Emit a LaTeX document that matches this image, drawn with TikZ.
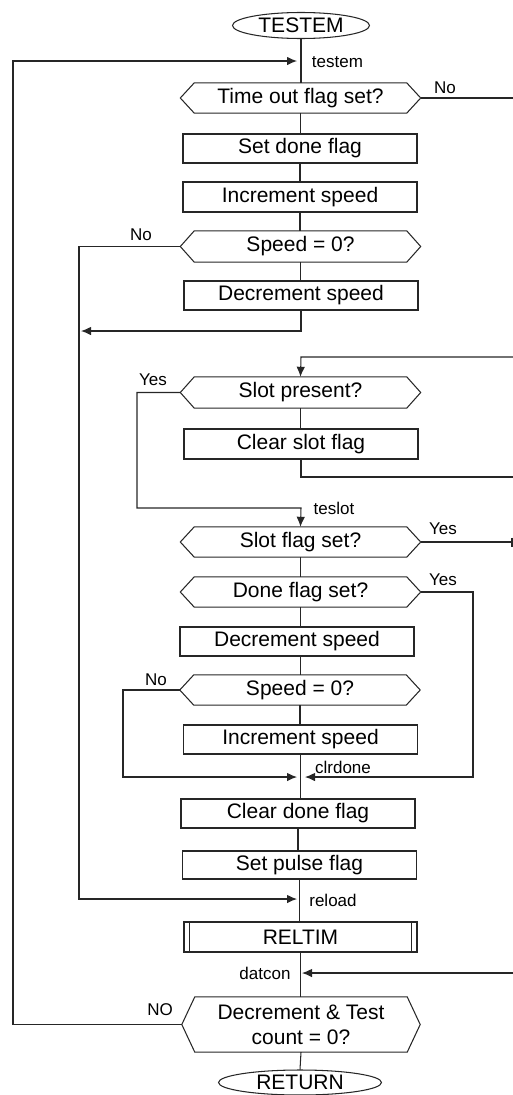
\documentclass[tikz,border=0pt]{standalone}
\usepackage{fontspec}
\setmainfont{Liberation Sans}
\usetikzlibrary{arrows.meta,shapes.geometric}
\newcommand\hexdraw[2]{\draw[shp] (#1.north west) -- (#1.north east) -- ([xshift=#2pt]#1.east) coordinate (#1r) -- (#1.south east) -- (#1.south west) -- ([xshift=-#2pt]#1.west) coordinate (#1l) -- cycle;}
\tikzset{
  shp/.style={draw=black!85, line width=1.05pt},
  ln/.style={draw=black!85, line width=1.05pt},
  arr/.style={-{Latex[length=10pt,width=8.5pt]}},
  big/.style={font={\fontsize{21}{25}\selectfont}},
  lbl/.style={font={\fontsize{17}{20}\selectfont}, inner sep=0pt},
  box/.style={shp, rectangle, minimum width=234pt, minimum height=29pt, inner sep=0pt, big},
  hexin/.style={rectangle, minimum width=212pt, minimum height=30pt, inner sep=0pt, big, align=center},
  term/.style={shp, ellipse, inner sep=0pt, big},
}
\begin{document}
\begin{tikzpicture}[x=1pt,y=-1pt]
\useasboundingbox (0,0) rectangle (513,1095);
% nodes
\node[term, minimum width=137pt, minimum height=26pt] (start) at (301,25.5) {TESTEM};
\node[hexin, minimum height=30pt] (q1) at (300.5,98) {Time out flag set?};
\hexdraw{q1}{14}
\node[box, minimum height=29pt] (b1) at (300,148.5) {Set done flag};
\node[box, minimum height=30pt] (b2) at (300,197) {Increment speed};
\node[hexin, minimum height=31pt] (q2) at (300.5,246.5) {Speed = 0?};
\hexdraw{q2}{14}
\node[box, minimum height=29pt] (b3) at (301,295.5) {Decrement speed};
\node[hexin, minimum height=31pt] (q3) at (300.5,392.5) {Slot present?};
\hexdraw{q3}{14}
\node[box, minimum height=30pt] (b4) at (301,444) {Clear slot flag};
\node[hexin, minimum height=30pt] (q4) at (300.5,542) {Slot flag set?};
\hexdraw{q4}{14}
\node[hexin, minimum height=30pt] (q5) at (300.5,592) {Done flag set?};
\hexdraw{q5}{14}
\node[box, minimum height=29pt] (b5) at (297,641.5) {Decrement speed};
\node[hexin, minimum height=30pt] (q6) at (300,690) {Speed = 0?};
\hexdraw{q6}{14}
\node[box, minimum height=29pt] (b6) at (300.5,739.5) {Increment speed};
\node[box, minimum height=29pt] (b7) at (298,813.5) {Clear done flag};
\node[box, minimum height=28pt] (b8) at (299.5,865) {Set pulse flag};
\node[box, minimum width=233pt, minimum height=30pt] (b9) at (300.5,937) {RELTIM};
\draw[shp] ([xshift=6pt]b9.north west) -- ([xshift=6pt]b9.south west);
\draw[shp] ([xshift=-6pt]b9.north east) -- ([xshift=-6pt]b9.south east);
\node[hexin, minimum height=55pt] (q7) at (301,1024.5) {Decrement \& Test\\count = 0?};
\hexdraw{q7}{13}
\node[term, minimum width=163pt, minimum height=25pt] (end) at (300,1082.5) {RETURN};
% labels
\node[lbl] (lt) at (337.5,62) {testem};
\node[lbl] (l1) at (445,88) {No};
\node[lbl] (l2) at (141,235) {No};
\node[lbl] (l3) at (153,380) {Yes};
\node[lbl] (l4) at (334,508) {teslot};
\node[lbl] (l5) at (443,529) {Yes};
\node[lbl] (l6) at (443,580) {Yes};
\node[lbl] (l7) at (156,680) {No};
\node[lbl] (l8) at (343,767) {clrdone};
\node[lbl] (l9) at (333,900) {reload};
\node[lbl] (l10) at (265,973) {datcon};
\node[lbl] (l11) at (160,1010) {NO};
% junction coordinates
\coordinate (jt) at (301,61);
\coordinate (Lt) at (13,61);
\coordinate (Lb) at (13,1024.5);
\coordinate (R1) at (513,98);
\coordinate (L2a) at (79,246.5);
\coordinate (L2b) at (79,899);
\coordinate (jr) at (301,899);
\coordinate (j1) at (79,331);
\coordinate (Rt) at (513,357);
\coordinate (Tt) at (301,357);
\coordinate (R4) at (513,477);
\coordinate (Y3a) at (137,392.5);
\coordinate (Y3b) at (137,508);
\coordinate (Y3c) at (301,508);
\coordinate (R5) at (513,542);
\coordinate (Y5a) at (473,592);
\coordinate (Y5b) at (473,777);
\coordinate (jc) at (301,777);
\coordinate (N6a) at (123,690);
\coordinate (N6b) at (123,777);
\coordinate (Rd) at (513,973);
\coordinate (jd) at (301,973);
% main flow
\draw[ln] (start.south) -- (start.south |- q1.north);
\draw[ln] (q1.south) -- (q1.south |- b1.north);
\draw[ln] (b1.south) -- (b1.south |- b2.north);
\draw[ln] (b2.south) -- (b2.south |- q2.north);
\draw[ln] (q2.south) -- (q2.south |- b3.north);
\draw[ln] (q3.south) -- (q3.south |- b4.north);
\draw[ln] (q4.south) -- (q4.south |- q5.north);
\draw[ln] (q5.south) -- (q5.south |- b5.north);
\draw[ln] (q5.south |- b5.south) -- (q5.south |- q6.north);
\draw[ln] (q6.south) -- (q6.south |- b6.north);
\draw[ln] (b6.south) -- (b6.south |- b7.north);
\draw[ln] (b7.south) -- (b7.south |- b8.north);
\draw[ln] (b8.south) -- (b8.south |- b9.north);
\draw[ln] (b9.south) -- (b9.south |- q7.north);
\draw[ln] (q7.south) -- (end.north);
% branches
\draw[ln,arr,shorten >=4pt] (q7l) -- (Lb) -- (Lt) -- (jt);
\draw[ln] (q1r) -- (R1);
\draw[ln,arr,shorten >=4pt] (q2l) -- (L2a) -- (L2b) -- (jr);
\draw[ln,arr,shorten >=2pt] (b3.south) -- (b3.south |- j1) -- (j1);
\draw[ln,arr] (Rt) -- (Tt) -- (q3.north);
\draw[ln] (b4.south) -- (b4.south |- R4) -- (R4);
\draw[ln,arr] (q3l) -- (Y3a) -- (Y3b) -- (Y3c) -- (q4.north);
\draw[ln,-{Bar[width=9pt,line width=2pt]}] (q4r) -- (R5);
\draw[ln,arr,shorten >=4pt] (q5r) -- (Y5a) -- (Y5b) -- (jc);
\draw[ln,arr,shorten >=4pt] (q6l) -- (N6a) -- (N6b) -- (jc);
\draw[ln,arr,shorten >=1pt] (Rd) -- (jd);
\end{tikzpicture}
\end{document}
